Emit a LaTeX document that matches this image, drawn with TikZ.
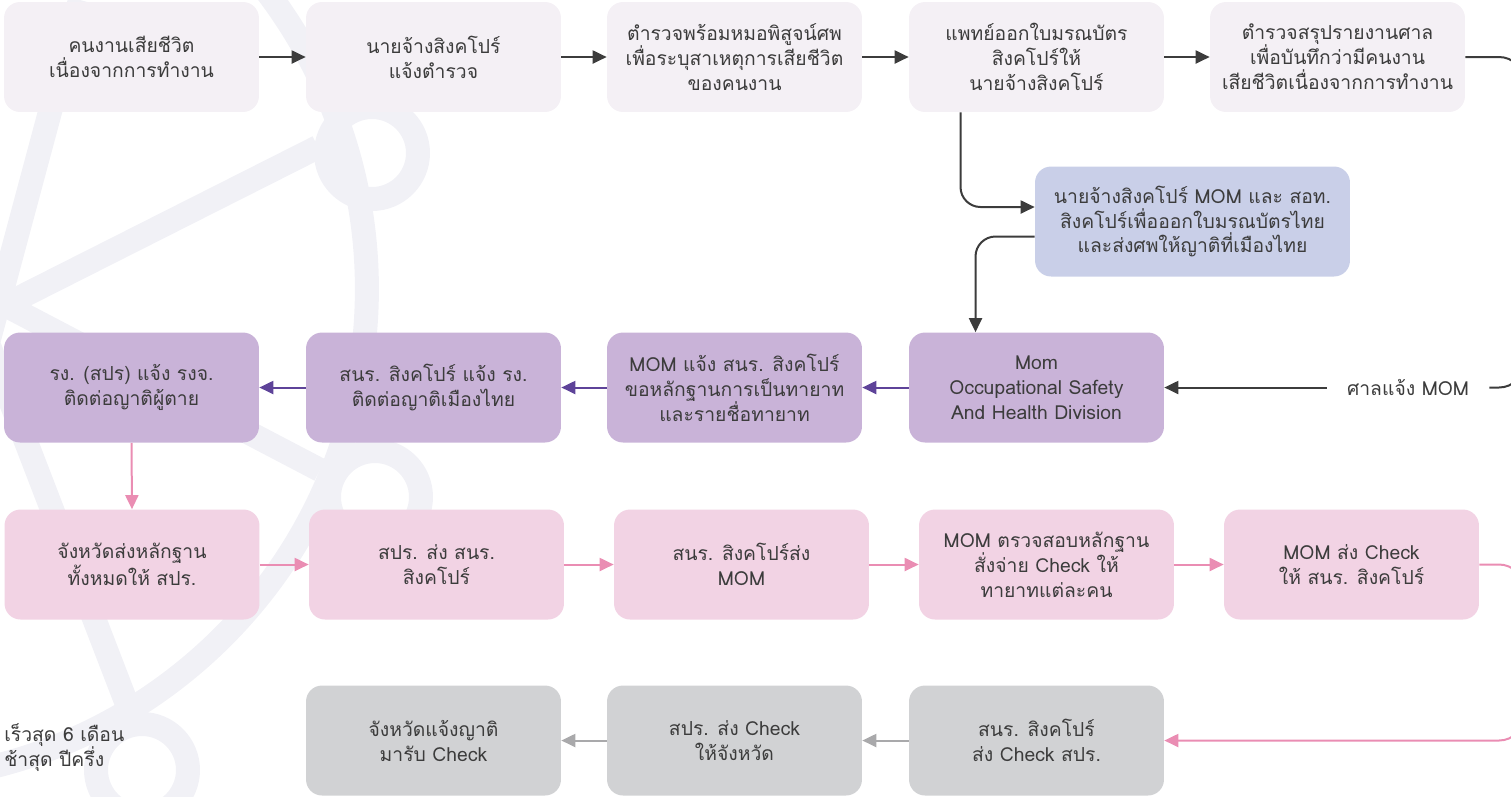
\documentclass[tikz,border=0pt]{standalone}
\usepackage{fontspec}
\setmainfont[Script=Thai]{Loma}
\usepackage{tikz}
\usetikzlibrary{arrows.meta}
\usetikzlibrary{positioning}
\usepackage{xcolor}
\definecolor{txtgrey}{HTML}{3C3C3C}
\definecolor{startfill}{HTML}{F4F0F5}
\definecolor{bluefill}{HTML}{C9CFE8}
\definecolor{momfill}{HTML}{C9B3D8}
\definecolor{payfill}{HTML}{F2D3E4}
\definecolor{checkfill}{HTML}{D1D2D4}
\definecolor{momline}{HTML}{5E4399}
\definecolor{payline}{HTML}{EA8DB3}
\definecolor{checkline}{HTML}{A9A9AB}
\definecolor{decogrey}{HTML}{F1F1F6}

\begin{document}
\begin{tikzpicture}[x=0.02cm, y=-0.02cm,
    box/.style={rectangle, rounded corners=0.32cm, minimum width=5.1cm, minimum height=2.2cm,
                align=center, text=txtgrey, inner sep=2pt, font=\fontsize{11}{14.2}\selectfont},
    arr/.style={line width=0.04cm, -{Triangle[length=0.28cm, width=0.26cm]}},
    deco/.style={line width=0.48cm, decogrey}]
            \useasboundingbox (0,0) rectangle (1511,796);

            % Background network
            \draw[deco] (-125,289) circle[radius=9.84cm];
            \draw[deco] (80,0) -- (-12,343) -- (130,712);
            \draw[deco, line join=miter] (318,147) -- (5,305) -- (320,470);
            \draw[deco] (372,153) circle[radius=0.92cm];
            \draw[deco] (375,497) circle[radius=0.92cm];
            \draw[deco] (142,770) circle[radius=0.92cm];

            % Death and reports
            \node[box, fill=startfill] (b1) at (131.5,57) {คนงานเสียชีวิต\\เนื่องจากการทำงาน};
            \node[box, fill=startfill] (b2) at (433.5,57) {นายจ้างสิงคโปร์\\แจ้งตำรวจ};
            \node[box, fill=startfill] (b3) at (734.5,57) {ตำรวจพร้อมหมอพิสูจน์ศพ\\เพื่อระบุสาเหตุการเสียชีวิต\\ของคนงาน};
            \node[box, fill=startfill] (b4) at (1036.5,57) {แพทย์ออกใบมรณบัตร\\สิงคโปร์ให้\\นายจ้างสิงคโปร์};
            \node[box, fill=startfill] (b5) at (1337.5,57) {ตำรวจสรุปรายงานศาล\\เพื่อบันทึกว่ามีคนงาน\\เสียชีวิตเนื่องจากการทำงาน};
            \node[box, fill=bluefill, minimum width=6.3cm] (blue) at (1192.5,221.5) {นายจ้างสิงคโปร์ MOM และ สอท.\\สิงคโปร์เพื่อออกใบมรณบัตรไทย\\และส่งศพให้ญาติที่เมืองไทย};

            % MOM and heirs
            \node[box, fill=momfill] (m1) at (1036.5,387.5) {Mom\\Occupational Safety\\And Health Division};
            \node[box, fill=momfill] (m2) at (734.5,387.5) {MOM แจ้ง สนร. สิงคโปร์\\ขอหลักฐานการเป็นทายาท\\และรายชื่อทายาท};
            \node[box, fill=momfill] (m3) at (433.5,387.5) {สนร. สิงคโปร์ แจ้ง รง.\\ติดต่อญาติเมืองไทย};
            \node[box, fill=momfill] (m4) at (131.5,387.5) {รง. (สปร) แจ้ง รงจ.\\ติดต่อญาติผู้ตาย};
            \node[text=txtgrey, inner xsep=0.4cm, font=\fontsize{11}{14.2}\selectfont] (court) at (1408,387.5) {ศาลแจ้ง MOM};

            % Evidence and payment
            \node[box, fill=payfill] (p1) at (132,564.5) {จังหวัดส่งหลักฐาน\\ทั้งหมดให้ สปร.};
            \node[box, fill=payfill] (p2) at (436.5,564.5) {สปร. ส่ง สนร.\\สิงคโปร์};
            \node[box, fill=payfill] (p3) at (741.5,564.5) {สนร. สิงคโปร์ส่ง\\MOM};
            \node[box, fill=payfill] (p4) at (1046.5,564.5) {MOM ตรวจสอบหลักฐาน\\สั่งจ่าย Check ให้\\ทายาทแต่ละคน};
            \node[box, fill=payfill] (p5) at (1351.5,564.5) {MOM ส่ง Check\\ให้ สนร. สิงคโปร์};

            % Check to the family
            \node[box, fill=checkfill] (g3) at (1036.5,740.5) {สนร. สิงคโปร์\\ส่ง Check สปร.};
            \node[box, fill=checkfill] (g2) at (734.5,740.5) {สปร. ส่ง Check\\ให้จังหวัด};
            \node[box, fill=checkfill] (g1) at (433.5,740.5) {จังหวัดแจ้งญาติ\\มารับ Check};
            \node[anchor=west, align=left, inner sep=0pt, text=txtgrey, font=\fontsize{11}{14.2}\selectfont] (note) at (4,747.5) {เร็วสุด 6 เดือน\\ช้าสุด ปีครึ่ง};

            \coordinate (rt1) at (1524,200);
            \coordinate (rt2) at (1524,650);

            % Connectors
            \draw[arr, txtgrey] (b1.east) -- (b2.west);
            \draw[arr, txtgrey] (b2.east) -- (b3.west);
            \draw[arr, txtgrey] (b3.east) -- (b4.west);
            \draw[arr, txtgrey] (b4.east) -- (b5.west);
            \draw[arr, txtgrey, rounded corners=0.4cm] ([xshift=-1.52cm]b4.south) |- ([yshift=0.29cm]blue.west);
            \draw[arr, txtgrey, rounded corners=0.4cm] ([yshift=-0.3cm]blue.west) -| ([xshift=-1.22cm]m1.north);
            \draw[line width=0.04cm, txtgrey, rounded corners=0.5cm] (b5.east) -| (rt1) |- (court.east);
            \draw[arr, txtgrey] (court.west) -- (m1.east);

            \draw[arr, momline] (m1.west) -- (m2.east);
            \draw[arr, momline] (m2.west) -- (m3.east);
            \draw[arr, momline] (m3.west) -- (m4.east);
            \draw[arr, payline] (m4.south) -- (p1.north);

            \draw[arr, payline] (p1.east) -- (p2.west);
            \draw[arr, payline] (p2.east) -- (p3.west);
            \draw[arr, payline] (p3.east) -- (p4.west);
            \draw[arr, payline] (p4.east) -- (p5.west);
            \draw[arr, payline, rounded corners=0.5cm] (p5.east) -| (rt2) |- (g3.east);

            \draw[arr, checkline] (g3.west) -- (g2.east);
            \draw[arr, checkline] (g2.west) -- (g1.east);
        \end{tikzpicture}
\end{document}
